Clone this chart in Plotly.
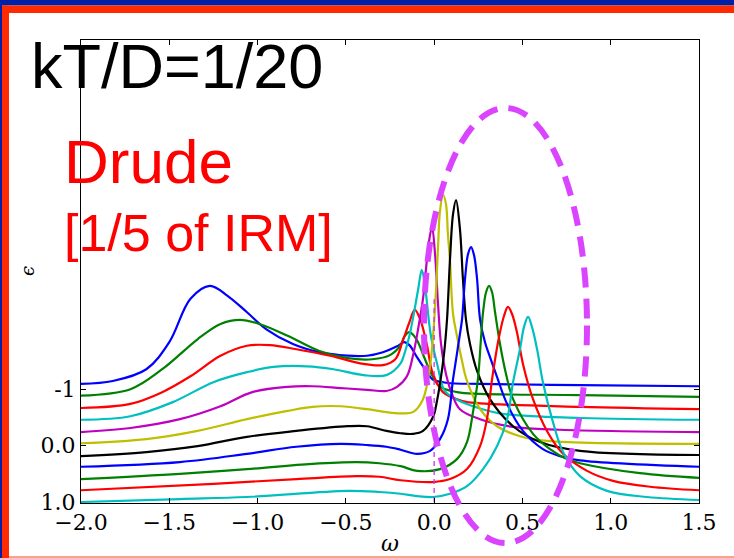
import plotly.graph_objects as go

# ---------------------------------------------------------------------------
# Spectra eps(omega), stacked with a constant offset, top curve first.
# ---------------------------------------------------------------------------
w00 = [-2.0, -1.82, -1.63, -1.50, -1.38, -1.27, -1.17, -1.06, -0.95, -0.80, -0.65, -0.49, -0.38, -0.29,
       -0.21, -0.17, -0.14, -0.10, -0.04, -0.01, 0.07, 0.26, 0.83, 1.50]
e00 = [2.01, 2.06, 2.26, 2.72, 3.46, 3.68, 3.51, 3.23, 2.94, 2.69, 2.55, 2.49, 2.49, 2.55,
       2.65, 2.72, 2.67, 2.48, 2.21, 2.09, 2.03, 2.01, 1.99, 1.97]

w01 = [-2.0, -1.72, -1.54, -1.34, -1.21, -1.10, -0.99, -0.83, -0.65, -0.49, -0.35, -0.25, -0.19, -0.17,
       -0.14, -0.10, -0.06, -0.02, 0.03, 0.13, 0.26, 0.83, 1.50]
e01 = [1.81, 1.92, 2.26, 2.77, 3.03, 3.10, 3.03, 2.83, 2.57, 2.45, 2.43, 2.50, 2.67, 2.81,
       2.89, 2.77, 2.49, 2.21, 1.97, 1.87, 1.84, 1.82, 1.79]

w02 = [-2.0, -1.72, -1.54, -1.38, -1.21, -1.06, -0.93, -0.78, -0.59, -0.40, -0.29, -0.22, -0.18, -0.14,
       -0.11, -0.08, -0.04, -0.01, 0.05, 0.16, 0.26, 0.83, 1.50]
e02 = [1.60, 1.67, 1.87, 2.14, 2.49, 2.66, 2.67, 2.60, 2.49, 2.35, 2.33, 2.43, 2.72, 3.06,
       3.27, 3.12, 2.66, 2.21, 1.87, 1.72, 1.68, 1.62, 1.58]

w03 = [-2.0, -1.72, -1.48, -1.25, -1.06, -0.91, -0.72, -0.57, -0.40, -0.27, -0.19, -0.17, -0.14, -0.11,
       -0.09, -0.07, -0.05, -0.02, 0.02, 0.06, 0.13, 0.20, 0.37, 0.83, 1.50]
e03 = [1.40, 1.46, 1.70, 2.04, 2.21, 2.30, 2.31, 2.26, 2.16, 2.16, 2.36, 2.51, 2.83, 3.29,
       3.63, 3.95, 3.63, 2.86, 2.31, 1.89, 1.74, 1.65, 1.51, 1.43, 1.40]

w04 = [-2.0, -1.72, -1.44, -1.21, -1.03, -0.83, -0.69, -0.53, -0.38, -0.27, -0.21, -0.154, -0.12, -0.091,
       -0.063, -0.046, -0.029, -0.012, 0.005, 0.022, 0.039, 0.067, 0.101, 0.146, 0.26, 0.447, 0.713, 1.50]
e04 = [1.19, 1.26, 1.41, 1.63, 1.87, 1.96, 1.97, 1.94, 1.91, 1.89, 1.96, 2.14, 2.49, 2.94,
       3.46, 3.97, 4.44, 4.68, 4.22, 3.37, 2.69, 2.18, 1.84, 1.58, 1.41, 1.28, 1.23, 1.19]

w05 = [-2.0, -1.63, -1.34, -1.06, -0.83, -0.69, -0.53, -0.38, -0.27, -0.19, -0.12, -0.063, -0.023, -0.006,
       0.011, 0.022, 0.033, 0.050, 0.067, 0.078, 0.090, 0.107, 0.129, 0.158, 0.186, 0.260, 0.356, 0.486,
       0.639, 1.50]
e05 = [1.00, 1.07, 1.21, 1.41, 1.55, 1.62, 1.63, 1.58, 1.53, 1.51, 1.53, 1.75, 2.32, 2.83,
       3.63, 4.34, 4.95, 5.23, 5.07, 4.56, 4.09, 3.20, 2.83, 2.40, 2.06, 1.58, 1.29, 1.12,
       1.04, 0.99]

w06 = [-2.0, -1.63, -1.34, -1.06, -0.78, -0.49, -0.38, -0.27, -0.19, -0.12, -0.063, -0.006, 0.016, 0.033,
       0.056, 0.073, 0.090, 0.107, 0.124, 0.146, 0.163, 0.180, 0.203, 0.243, 0.316, 0.447, 0.600, 0.826, 1.50]
e06 = [0.78, 0.85, 0.95, 1.11, 1.21, 1.29, 1.29, 1.21, 1.17, 1.16, 1.21, 1.45, 1.72, 2.01,
       2.52, 3.11, 4.14, 4.90, 5.14, 4.65, 3.80, 3.11, 2.69, 2.23, 1.75, 1.29, 1.02, 0.87, 0.80]

w07 = [-2.0, -1.44, -1.06, -0.78, -0.53, -0.38, -0.27, -0.19, -0.097, -0.023, 0.033, 0.078, 0.107, 0.129,
       0.146, 0.158, 0.175, 0.192, 0.209, 0.226, 0.243, 0.260, 0.288, 0.316, 0.356, 0.413, 0.503, 0.616,
       0.713, 0.826, 1.50]
e07 = [0.60, 0.68, 0.82, 0.94, 0.99, 0.97, 0.94, 0.89, 0.82, 0.87, 1.07, 1.41, 2.09, 2.52,
       2.86, 3.11, 3.80, 4.22, 4.34, 4.20, 3.80, 3.11, 2.72, 2.47, 2.13, 1.67, 1.21, 0.90,
       0.78, 0.71, 0.60]

w08 = [-2.0, -1.44, -1.06, -0.69, -0.44, -0.31, -0.19, -0.097, 0.033, 0.129, 0.186, 0.220, 0.248, 0.265,
       0.277, 0.294, 0.311, 0.328, 0.345, 0.373, 0.407, 0.447, 0.560, 0.656, 0.752, 0.826, 1.166, 1.50]
e08 = [0.39, 0.48, 0.56, 0.65, 0.68, 0.66, 0.61, 0.53, 0.56, 0.73, 1.02, 1.53, 2.09, 2.77,
       3.23, 3.57, 3.68, 3.57, 3.23, 2.69, 2.18, 1.75, 1.16, 0.90, 0.73, 0.66, 0.49, 0.41]

w09 = [-2.0, -1.25, -0.78, -0.44, -0.31, -0.19, -0.006, 0.090, 0.186, 0.260, 0.299, 0.328, 0.350, 0.373,
       0.396, 0.418, 0.441, 0.469, 0.503, 0.560, 0.639, 0.730, 0.866, 1.013, 1.223, 1.50]
e09 = [0.20, 0.31, 0.39, 0.44, 0.43, 0.37, 0.34, 0.39, 0.56, 0.95, 1.41, 2.09, 2.52, 2.89,
       3.17, 3.32, 3.20, 2.89, 2.35, 1.75, 1.21, 0.82, 0.53, 0.36, 0.26, 0.20]

w10 = [-2.0, -1.44, -1.06, -0.49, -0.31, -0.19, -0.097, -0.006, 0.090, 0.186, 0.277, 0.356, 0.413, 0.447,
       0.486, 0.509, 0.532, 0.554, 0.583, 0.616, 0.673, 0.730, 0.826, 0.979, 1.206, 1.50]
e10 = [0.00, 0.05, 0.085, 0.19, 0.17, 0.14, 0.10, 0.085, 0.14, 0.27, 0.56, 0.95, 1.41, 2.04,
       2.60, 2.98, 3.15, 2.98, 2.60, 2.04, 1.36, 0.85, 0.44, 0.19, 0.085, 0.034]

omega_series = [w00, w01, w02, w03, w04, w05, w06, w07, w08, w09, w10]
eps_series = [e00, e01, e02, e03, e04, e05, e06, e07, e08, e09, e10]

# matplotlib "classic" colour cycle b, g, r, c, m, y, k
line_colors = ["#0000ff", "#008000", "#ff0000", "#00bfbf", "#bf00bf", "#bfbf00",
               "#000000", "#0000ff", "#008000", "#ff0000", "#00bfbf"]

x_ticks = [-2.0, -1.5, -1.0, -0.5, 0.0, 0.5, 1.0, 1.5]
x_tick_text = ["\u22122.0", "\u22121.5", "\u22121.0", "\u22120.5", "0.0", "0.5", "1.0", "1.5"]
y_ticks = [0.0, 0.97, 1.92]
y_tick_text = ["1.0", "0.0", "-1"]

omega_marker = 0.0          # dashed reference line at omega = 0
omega_marker_top = 3.45

# ---------------------------------------------------------------------------
# Page geometry (pixels) and helpers to place overlay elements in paper units
# ---------------------------------------------------------------------------
W, H = 734, 558
PL, PR, PT, PB = 81, 699, 40, 503


def pxx(x):
    return (x - PL) / (PR - PL)


def pxy(y):
    return (PB - y) / (PB - PT)


fig = go.Figure()

for w, e, c in zip(omega_series, eps_series, line_colors):
    fig.add_trace(go.Scatter(x=w, y=e, mode="lines",
                             line=dict(color=c, width=2.2, shape="spline", smoothing=1.0),
                             showlegend=False, hoverinfo="skip"))

fig.add_trace(go.Scatter(x=[omega_marker, omega_marker], y=[0.0, omega_marker_top], mode="lines",
                         line=dict(color="#cc33ee", width=1.3, dash="5px,4px"),
                         showlegend=False, hoverinfo="skip"))

axis_common = dict(showline=True, linecolor="black", linewidth=1, mirror="ticks",
                   ticks="inside", ticklen=5, tickcolor="black", tickwidth=1,
                   showgrid=False, zeroline=False,
                   tickfont=dict(family="DejaVu Serif", size=22, color="black"))

fig.update_xaxes(range=[-2.0, 1.5], tickvals=x_ticks, ticktext=x_tick_text, **axis_common)
fig.update_yaxes(range=[-0.017, 7.864], tickvals=y_ticks, ticktext=y_tick_text, **axis_common)

shapes = [
    # slide frame: blue band, red band, left edges, bottom rule
    dict(type="rect", xref="paper", yref="paper", x0=pxx(0), x1=pxx(W), y0=pxy(5.5), y1=pxy(0),
         fillcolor="#0020a8", line=dict(width=0), layer="above"),
    dict(type="rect", xref="paper", yref="paper", x0=pxx(2), x1=pxx(W), y0=pxy(13), y1=pxy(5.5),
         fillcolor="#ff2a00", line=dict(width=0), layer="above"),
    dict(type="rect", xref="paper", yref="paper", x0=pxx(0), x1=pxx(2), y0=pxy(H), y1=pxy(0),
         fillcolor="#0020a8", line=dict(width=0), layer="above"),
    dict(type="rect", xref="paper", yref="paper", x0=pxx(2), x1=pxx(9), y0=pxy(H), y1=pxy(5.5),
         fillcolor="#ff2a00", line=dict(width=0), layer="above"),
    dict(type="rect", xref="paper", yref="paper", x0=pxx(9), x1=pxx(W), y0=pxy(H), y1=pxy(556),
         fillcolor="#f6a58c", line=dict(width=0), layer="above"),
    # highlight ellipse around the peaks
    dict(type="circle", xref="paper", yref="paper", x0=pxx(424), x1=pxx(587), y0=pxy(543), y1=pxy(108),
         line=dict(color="#da44ff", width=6, dash="20px,11px"), layer="above"),
]

annotations = [
    dict(text="kT/D=1/20", x=pxx(29), y=pxy(66), xanchor="left", yanchor="middle",
         font=dict(family="Liberation Sans", size=63, color="black")),
    dict(text="Drude", x=pxx(62), y=pxy(161), xanchor="left", yanchor="middle",
         font=dict(family="Liberation Sans", size=62, color="#ff0000")),
    dict(text="[1/5 of IRM]", x=pxx(62), y=pxy(233), xanchor="left", yanchor="middle",
         font=dict(family="Liberation Sans", size=52, color="#ff0000")),
    dict(text="<i>\u03c9</i>", x=0.5, y=pxy(543), xanchor="center", yanchor="middle",
         font=dict(family="DejaVu Serif", size=22, color="black")),
    dict(text="<i>\u03f5</i>", x=pxx(27), y=pxy(271), xanchor="center", yanchor="middle", textangle=-90,
         font=dict(family="DejaVu Serif", size=18, color="black")),
]
for a in annotations:
    a.update(xref="paper", yref="paper", showarrow=False)

fig.update_layout(width=W, height=H, margin=dict(l=PL, r=W - PR, t=PT, b=H - PB),
                  paper_bgcolor="white", plot_bgcolor="white",
                  shapes=shapes, annotations=annotations)

fig.write_html("out.html")
